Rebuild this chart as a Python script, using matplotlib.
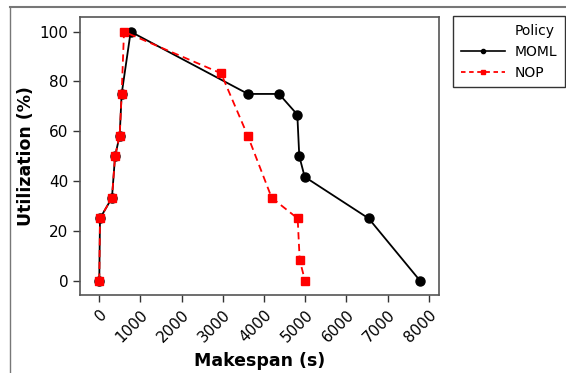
import matplotlib
matplotlib.use("Agg")
import matplotlib.pyplot as plt
from matplotlib.lines import Line2D

# Policy series (makespan in s, utilization in %)
moml_makespan = [0, 17, 308, 383, 495, 543, 762, 3609, 4362, 4806, 4854, 4985, 6538, 7784]
moml_util = [0, 25, 33.3, 50, 58.3, 75, 100, 75, 75, 66.7, 50, 41.7, 25, 0]

nop_makespan = [0, 17, 308, 383, 495, 543, 600, 2954, 3601, 4184, 4815, 4864, 4993]
nop_util = [0, 25, 33.3, 50, 58.3, 75, 100, 83.3, 58.3, 33.3, 25, 8.3, 0]

x_ticks = [0, 1000, 2000, 3000, 4000, 5000, 6000, 7000, 8000]
y_ticks = [0, 20, 40, 60, 80, 100]


def main():
    plt.rcParams["font.family"] = ["DejaVu Sans"]
    fig = plt.figure(figsize=(5.66, 3.73), dpi=100)
    W, H = 566, 373
    ax = fig.add_axes([80 / W, 1 - 295 / H, (439 - 80) / W, (295 - 17) / H])

    ax.plot(moml_makespan, moml_util, color="black", lw=1.3, marker="o",
            markersize=6.5, zorder=2)
    ax.plot(nop_makespan, nop_util, color="red", lw=1.3, ls=(0, (4, 2.5)),
            marker="s", markersize=6, zorder=3)

    ax.set_xlim(-468, 8245)
    ax.set_ylim(-5.75, 105.9)
    ax.set_xticks(x_ticks)
    ax.set_yticks(y_ticks)
    ax.tick_params(labelsize=11, length=5, width=1, color="#333333")
    plt.setp(ax.get_xticklabels(), rotation=45, ha="right", rotation_mode="anchor")
    for s in ax.spines.values():
        s.set_color("#555555")
        s.set_linewidth(1.2)

    ax.set_xlabel("Makespan (s)", fontsize=12.5, fontweight="bold", labelpad=5)
    ax.set_ylabel("Utilization (%)", fontsize=12.5, fontweight="bold", labelpad=3)

    handles = [
        Line2D([], [], linestyle="none"),
        Line2D([], [], color="black", lw=1.2, marker="o", markersize=3),
        Line2D([], [], color="red", lw=1.3, ls=(0, (2.5, 2)), marker="s", markersize=3),
    ]
    leg = fig.legend(handles, ["Policy", "MOML", "NOP"],
                     loc="upper left", bbox_to_anchor=(453 / W, 1 - 16 / H),
                     fontsize=10, frameon=True, fancybox=False,
                     handlelength=3.2, handletextpad=0.7, labelspacing=0.5,
                     borderpad=0.55, borderaxespad=0)
    leg.get_frame().set_edgecolor("black")
    leg.get_frame().set_linewidth(1.0)

    # outer frame remnants
    fig.add_artist(Line2D([10 / W, 1], [1 - 7 / H, 1 - 7 / H], color="#777777", lw=1.5))
    fig.add_artist(Line2D([10 / W, 10 / W], [0, 1 - 7 / H], color="#777777", lw=1.0))

    fig.savefig("out.png", dpi=100)


if __name__ == "__main__":
    main()
